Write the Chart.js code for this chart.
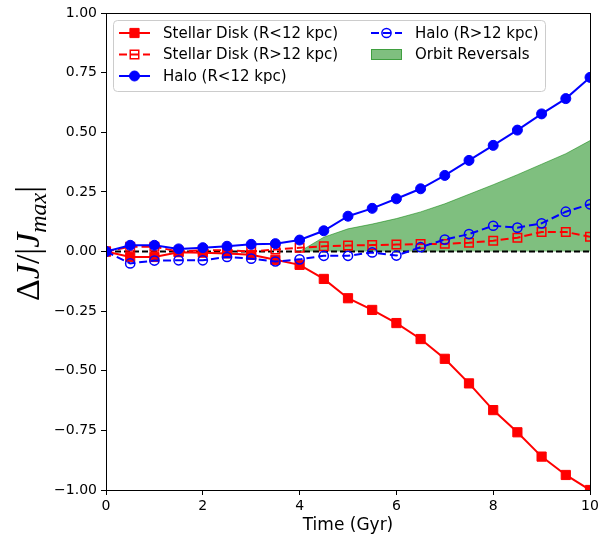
<!DOCTYPE html>
<html>
<head>
<meta charset="utf-8">
<script src="https://cdn.jsdelivr.net/npm/chart.js@4.4.0/dist/chart.umd.min.js"></script>
<style>
  html, body { margin: 0; padding: 0; background: #fff; }
  canvas { display: block; }
</style>
</head>
<body>
<canvas id="momentum" width="606" height="536"></canvas>
<script>
// time in Gyr
const time = [0, 0.5, 1, 1.5, 2, 2.5, 3, 3.5, 4, 4.5, 5, 5.5, 6, 6.5, 7, 7.5, 8, 8.5, 9, 9.5, 10];

// dJ / |J_max|
const diskInner = [0, -0.023, -0.023, -0.003, -0.005, -0.008, -0.014, -0.035, -0.056, -0.115, -0.196,
  -0.245, -0.30, -0.367, -0.45, -0.553, -0.665, -0.758, -0.86, -0.937, -1.0];
const diskOuter = [0, 0.02, 0.02, 0.0, 0.005, 0.005, 0.0, 0.008, 0.016, 0.022, 0.025,
  0.027, 0.029, 0.031, 0.032, 0.037, 0.045, 0.058, 0.082, 0.082, 0.062];
const haloInner = [0, 0.026, 0.026, 0.011, 0.016, 0.022, 0.03, 0.033, 0.048, 0.087, 0.148,
  0.181, 0.221, 0.263, 0.319, 0.382, 0.445, 0.509, 0.577, 0.641, 0.73];
const haloOuter = [0, -0.05, -0.038, -0.037, -0.037, -0.023, -0.03, -0.042, -0.033, -0.018, -0.018,
  -0.004, -0.017, 0.018, 0.05, 0.073, 0.108, 0.1, 0.118, 0.167, 0.198];

// shaded band (orbit reversals), filled down to zero
const reversalTime = [4.0, 4.5, 5.0, 5.5, 6.0, 6.5, 7.0, 7.5, 8.0, 8.5, 9.0, 9.5, 10];
const reversalTop = [0, 0.06, 0.095, 0.115, 0.138, 0.166, 0.2, 0.24, 0.28, 0.322, 0.366, 0.41, 0.465];

const xTicks = [0, 2, 4, 6, 8, 10];
const yTicks = [-1, -0.75, -0.5, -0.25, 0, 0.25, 0.5, 0.75, 1];

const pts = (xs, ys) => xs.map((x, i) => ({ x: x, y: ys[i] }));
const none = 'rgba(0,0,0,0)';

const datasets = [
  {
    label: 'Stellar Disk (R<12 kpc)', data: pts(time, diskInner),
    borderColor: '#ff0000', borderWidth: 2, pointStyle: 'rect', pointRadius: 6.5,
    pointBackgroundColor: '#ff0000', pointBorderColor: '#ff0000', pointBorderWidth: 1, order: 4
  },
  {
    label: 'Stellar Disk (R>12 kpc)', data: pts(time, diskOuter),
    borderColor: '#ff0000', borderWidth: 2, borderDash: [8, 4], pointStyle: 'rect', pointRadius: 6,
    pointBackgroundColor: none, pointBorderColor: '#ff0000', pointBorderWidth: 1.5, order: 3
  },
  {
    label: 'Halo (R<12 kpc)', data: pts(time, haloInner),
    borderColor: '#0000ff', borderWidth: 2, pointStyle: 'circle', pointRadius: 5,
    pointBackgroundColor: '#0000ff', pointBorderColor: '#0000ff', pointBorderWidth: 1, order: 2
  },
  {
    label: 'Halo (R>12 kpc)', data: pts(time, haloOuter),
    borderColor: '#0000ff', borderWidth: 2, borderDash: [8, 4], pointStyle: 'circle', pointRadius: 4.6,
    pointBackgroundColor: none, pointBorderColor: '#0000ff', pointBorderWidth: 1.5, order: 1
  },
  {
    label: 'Orbit Reversals', data: pts(reversalTime, reversalTop),
    borderColor: 'rgba(0,128,0,0.5)', borderWidth: 1, backgroundColor: 'rgba(0,128,0,0.5)',
    fill: 'origin', pointRadius: 0, order: 6
  },
  {
    label: 'zero', data: pts([0, 10], [0, 0]),
    borderColor: '#000', borderWidth: 2, borderDash: [6, 3], pointRadius: 0, order: 5
  }
];
datasets.forEach(d => { d.clip = 0; d.tension = 0; });

// two-column legend box like matplotlib's ncol=2
const legendCols = [[0, 1, 2], [3, 4]];

function drawMarker(ctx, ds, x, y) {
  const r = ds.pointRadius;
  ctx.beginPath();
  if (ds.pointStyle === 'rect') {
    const s = r * Math.SQRT1_2;
    ctx.rect(x - s, y - s, 2 * s, 2 * s);
  } else {
    ctx.arc(x, y, r, 0, Math.PI * 2);
  }
  ctx.setLineDash([]);
  if (ds.pointBackgroundColor !== none) {
    ctx.fillStyle = ds.pointBackgroundColor;
    ctx.fill();
  }
  ctx.lineWidth = ds.pointBorderWidth;
  ctx.strokeStyle = ds.pointBorderColor;
  ctx.stroke();
}

const boxLegend = {
  id: 'boxLegend',
  afterDraw(chart) {
    const ctx = chart.ctx, a = chart.chartArea;
    const x0 = a.left + 7, y0 = a.top + 7;
    ctx.save();
    ctx.beginPath();
    ctx.roundRect(x0 + 0.5, y0 + 0.5, 432, 71, 4);
    ctx.fillStyle = 'rgba(255,255,255,0.8)';
    ctx.fill();
    ctx.strokeStyle = '#cccccc';
    ctx.lineWidth = 1;
    ctx.stroke();

    const colX = [a.left + 13, a.left + 265];
    const rowY = [y0 + 13, y0 + 34.5, y0 + 56];
    ctx.font = '15px "DejaVu Sans"';
    ctx.textBaseline = 'middle';
    legendCols.forEach((col, c) => {
      col.forEach((idx, r) => {
        const ds = chart.data.datasets[idx];
        const hx = colX[c], hy = rowY[r];
        if (ds.fill) {
          ctx.fillStyle = ds.backgroundColor;
          ctx.fillRect(hx, hy - 5.5, 31, 11);
          ctx.strokeStyle = ds.borderColor;
          ctx.lineWidth = 1;
          ctx.setLineDash([]);
          ctx.strokeRect(hx + 0.5, hy - 5, 30, 10);
        } else {
          ctx.beginPath();
          ctx.setLineDash(ds.borderDash || []);
          ctx.moveTo(hx, hy);
          ctx.lineTo(hx + 31, hy);
          ctx.strokeStyle = ds.borderColor;
          ctx.lineWidth = ds.borderWidth;
          ctx.stroke();
          drawMarker(ctx, ds, hx + 15.5, hy);
        }
        ctx.fillStyle = '#000';
        ctx.fillText(ds.label, hx + 44, hy + 1);
      });
    });
    ctx.restore();
  }
};

// spines on all four sides, drawn over the data
const frame = {
  id: 'frame',
  afterDatasetsDraw(chart) {
    const ctx = chart.ctx, a = chart.chartArea;
    ctx.save();
    ctx.strokeStyle = '#000';
    ctx.lineWidth = 1;
    ctx.setLineDash([]);
    ctx.strokeRect(Math.round(a.left) + 0.5, Math.round(a.top) + 0.5,
      Math.round(a.right - a.left), Math.round(a.bottom - a.top));
    ctx.restore();
  }
};

// y label: \Delta J / |J_{max}|
const yLabel = {
  id: 'yLabel',
  afterDraw(chart) {
    const ctx = chart.ctx, a = chart.chartArea;
    const size = 34;
    const parts = [
      { t: '\u0394', f: size + 'px "Liberation Serif"', dy: 0 },
      { t: 'J', f: 'italic ' + size + 'px "Liberation Serif"', dy: 0 },
      { t: '/|', f: size + 'px "Liberation Serif"', dy: 0 },
      { t: 'J', f: 'italic ' + size + 'px "Liberation Serif"', dy: 0 },
      { t: 'max', f: 'italic ' + Math.round(size * 0.7) + 'px "Liberation Serif"', dy: 7 },
      { t: '|', f: size + 'px "Liberation Serif"', dy: 0 }
    ];
    ctx.save();
    let total = 0;
    parts.forEach(p => { ctx.font = p.f; p.w = ctx.measureText(p.t).width; total += p.w; });
    ctx.translate(39, (a.top + a.bottom) / 2 - 8);
    ctx.rotate(-Math.PI / 2);
    ctx.fillStyle = '#000';
    ctx.textBaseline = 'alphabetic';
    let x = -total / 2;
    parts.forEach(p => {
      ctx.font = p.f;
      ctx.fillText(p.t, x, p.dy);
      x += p.w;
    });
    ctx.restore();
  }
};

const fmtY = v => (v < 0 ? '\u2212' : '') + Math.abs(v).toFixed(2);

new Chart(document.getElementById('momentum'), {
  type: 'line',
  data: { datasets: datasets },
  options: {
    responsive: false,
    animation: false,
    devicePixelRatio: 1,
    layout: { padding: { top: 13, right: 16, left: 0, bottom: 0 } },
    plugins: { legend: { display: false }, tooltip: { enabled: false } },
    scales: {
      x: {
        type: 'linear', min: 0, max: 10,
        afterBuildTicks: s => { s.ticks = xTicks.map(v => ({ value: v })); },
        afterFit: s => { s.height = 46; },
        ticks: { color: '#000', font: { family: 'DejaVu Sans', size: 14 }, padding: 3, maxRotation: 0 },
        grid: { drawOnChartArea: false, drawTicks: true, tickLength: 5, color: '#000' },
        border: { color: '#000', width: 1 },
        title: {
          display: true, text: 'Time (Gyr)', color: '#000',
          font: { family: 'DejaVu Sans', size: 17 }, padding: { top: 0, bottom: 0 }
        }
      },
      y: {
        type: 'linear', min: -1, max: 1,
        afterBuildTicks: s => { s.ticks = yTicks.map(v => ({ value: v })); },
        afterFit: s => { s.width = 106; },
        ticks: { color: '#000', font: { family: 'DejaVu Sans', size: 14 }, padding: 4, callback: fmtY },
        grid: { drawOnChartArea: false, drawTicks: true, tickLength: 5, color: '#000' },
        border: { color: '#000', width: 1 }
      }
    }
  },
  plugins: [boxLegend, frame, yLabel]
});
</script>
</body>
</html>
